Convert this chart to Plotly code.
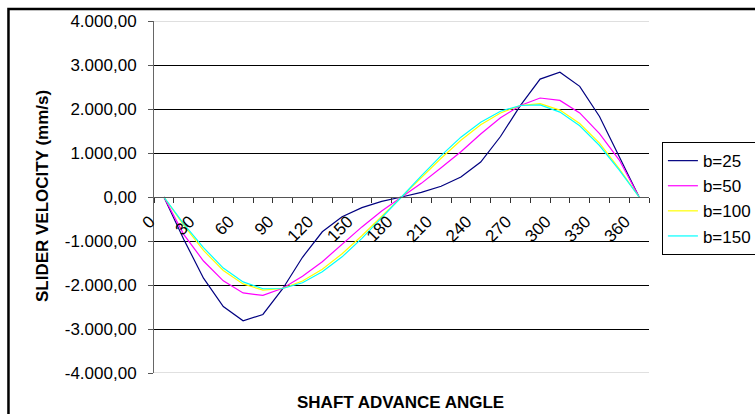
import plotly.graph_objects as go

angles = list(range(0, 361, 15))
tick_labels = ["0", "30", "60", "90", "120", "150", "180", "210", "240", "270", "300", "330", "360"]
y_tick_vals = [-4000, -3000, -2000, -1000, 0, 1000, 2000, 3000, 4000]
y_tick_text = ["-4.000,00", "-3.000,00", "-2.000,00", "-1.000,00", "0,00",
               "1.000,00", "2.000,00", "3.000,00", "4.000,00"]

b25 = [0, -960, -1845, -2490, -2815, -2670, -2085, -1370, -790, -450, -242, -100, 0,
       105, 245, 455, 795, 1375, 2075, 2680, 2835, 2515, 1830, 920, 0]
b50 = [0, -850, -1455, -1905, -2180, -2236, -2075, -1800, -1470, -1080, -680, -320, 0,
       310, 665, 1030, 1430, 1800, 2080, 2250, 2195, 1910, 1440, 840, 0]
b100 = [0, -640, -1215, -1670, -1975, -2115, -2080, -1910, -1640, -1290, -880, -445, 0,
        445, 880, 1290, 1640, 1910, 2080, 2120, 1975, 1670, 1225, 640, 0]
b150 = [0, -610, -1150, -1615, -1930, -2085, -2080, -1950, -1700, -1360, -940, -480, 0,
        480, 940, 1360, 1700, 1950, 2080, 2095, 1930, 1620, 1170, 610, 0]

series = [("b=25", b25, "#000080"), ("b=50", b50, "#FF00FF"),
          ("b=100", b100, "#FFFF00"), ("b=150", b150, "#00FFFF")]

FONT = "Arial, Liberation Sans, sans-serif"

fig = go.Figure()
for name, vals, col in series:
    fig.add_trace(go.Scatter(x=angles, y=vals, name=name, mode="lines",
                             line=dict(color=col, width=1.2)))

# category boundaries (tick marks); labels on every other boundary
x_tick_vals = [a - 7.5 for a in range(0, 376, 15)]
x_tick_text = []
for k in range(len(x_tick_vals)):
    x_tick_text.append(tick_labels[k // 2] if k % 2 == 0 and k // 2 < len(tick_labels) else "")

fig.update_layout(
    width=755, height=414,
    margin=dict(l=154, r=106, t=21, b=41, autoexpand=False),
    paper_bgcolor="white", plot_bgcolor="white",
    font=dict(family=FONT, color="black", size=17),
    showlegend=True,
    legend=dict(x=1.218, xanchor="right", y=0.656, yanchor="top",
                bordercolor="#000000", borderwidth=1, bgcolor="white",
                font=dict(family=FONT, size=17, color="black"),
                tracegroupgap=0),
    xaxis=dict(range=[-7.5, 367.5], anchor="free", position=0.5,
               tickmode="array", tickvals=x_tick_vals, ticktext=x_tick_text,
               tickangle=-45, ticks="outside", ticklen=5, tickcolor="#333333",
               showline=True, linecolor="#555555", linewidth=1,
               showgrid=False, zeroline=False,
               ticklabelstandoff=2, ticklabelshift=-4,
               tickfont=dict(family=FONT, size=17, color="black")),
    yaxis=dict(range=[-4000, 4000], tickmode="array", tickvals=y_tick_vals,
               ticktext=y_tick_text, ticks="outside", ticklen=5, tickcolor="#555555",
               showline=True, linecolor="#666666", linewidth=1,
               showgrid=True, gridcolor="#000000", gridwidth=1, zeroline=False,
               ticklabelstandoff=8,
               tickfont=dict(family=FONT, size=17, color="black")),
    annotations=[
        dict(text="<b>SHAFT ADVANCE ANGLE</b>", xref="paper", yref="paper",
             x=0.497, y=-0.085, xanchor="center", yanchor="middle", showarrow=False,
             font=dict(family=FONT, size=17, color="black")),
        dict(text="<b>SLIDER VELOCITY (mm/s)</b>", xref="paper", yref="paper",
             x=-0.224, y=0.503, xanchor="center", yanchor="middle", showarrow=False,
             textangle=-90, font=dict(family=FONT, size=17, color="black")),
    ],
    shapes=[
        dict(type="line", xref="paper", yref="y", x0=0, x1=1, y0=4000, y1=4000,
             line=dict(color="#c0c0c0", width=1)),
        dict(type="line", xref="paper", yref="y", x0=0, x1=1, y0=-4000, y1=-4000,
             line=dict(color="#c0c0c0", width=1)),
        dict(type="rect", xref="paper", yref="paper", x0=-0.294, x1=1.25,
             y0=-0.2, y1=1.034, line=dict(color="black", width=2.5),
             fillcolor="rgba(0,0,0,0)"),
    ],
)

fig.write_html("out.html", config={"displayModeBar": False},
               post_script="document.body.style.margin='0';document.body.style.overflow='hidden';")
